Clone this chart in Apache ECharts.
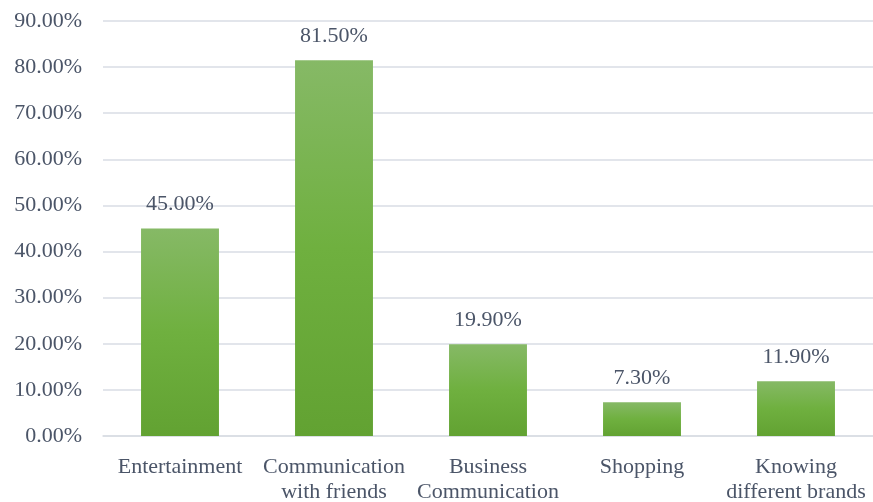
<!DOCTYPE html>
<html>
<head>
<meta charset="utf-8">
<script src="https://cdn.jsdelivr.net/npm/echarts@6/dist/echarts.min.js"></script>
<style>
  html, body { margin: 0; padding: 0; background: #fff; }
  #chart { width: 873px; height: 502px; }
</style>
</head>
<body>
<div id="chart"></div>
<script>
// Purposes of use, share of respondents (%)
const categories = [
  'Entertainment',
  'Communication\nwith friends',
  'Business\nCommunication',
  'Shopping',
  'Knowing\ndifferent brands'
];
const shares = [45.0, 81.5, 19.9, 7.3, 11.9];
const yTicks = { min: 0, max: 90, step: 10 };

const textColor = '#4b5568';
const fontFamily = '"Liberation Serif", "Times New Roman", serif';
const fontSize = 22;

const chart = echarts.init(document.getElementById('chart'));
chart.setOption({
  animation: false,
  grid: { left: 103, right: 0, top: 21, bottom: 66, outerBoundsMode: 'none', containLabel: false },
  xAxis: {
    type: 'category',
    data: categories,
    axisTick: { show: false },
    axisLine: { lineStyle: { color: '#d9dde4', width: 1.5 } },
    axisLabel: {
      color: textColor, fontFamily, fontSize, margin: 19,
      lineHeight: 25, interval: 0
    }
  },
  yAxis: {
    type: 'value',
    min: yTicks.min, max: yTicks.max, interval: yTicks.step,
    axisLine: { show: false },
    axisTick: { show: false },
    splitLine: { lineStyle: { color: '#d9dde4', width: 1.5 } },
    axisLabel: {
      color: textColor, fontFamily, fontSize, margin: 21,
      formatter: v => v.toFixed(2) + '%'
    }
  },
  series: [{
    type: 'bar',
    data: shares,
    barWidth: '50.6%',
    itemStyle: {
      color: new echarts.graphic.LinearGradient(0, 0, 0, 1, [
        { offset: 0, color: '#86b966' },
        { offset: 0.5, color: '#6fb03f' },
        { offset: 1, color: '#62a232' }
      ])
    },
    label: {
      show: true, position: 'top', distance: 13,
      color: textColor, fontFamily, fontSize,
      formatter: p => p.value.toFixed(2) + '%'
    }
  }]
});
</script>
</body>
</html>
